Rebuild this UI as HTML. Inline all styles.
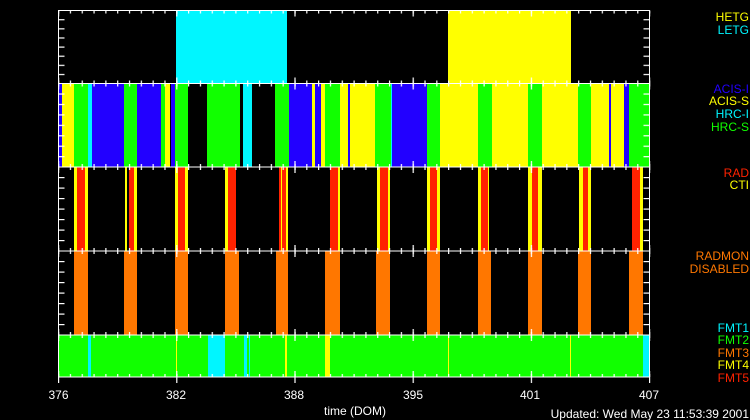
<!DOCTYPE html>
<html><head><meta charset="utf-8"><style>
html,body{margin:0;padding:0;background:#000;}
svg{display:block;}
text{font-family:"Liberation Sans",sans-serif;font-size:12px;}
</style></head><body>
<svg width="750" height="420" viewBox="0 0 750 420" xmlns="http://www.w3.org/2000/svg">
<defs>
<pattern id="mn" patternUnits="userSpaceOnUse" x="58" y="0" width="11.82" height="420"><rect x="0" y="0" width="1.2" height="420" fill="#fff"/></pattern>
<pattern id="mj" patternUnits="userSpaceOnUse" x="58" y="0" width="118.2" height="420"><rect x="0" y="0" width="1.2" height="420" fill="#fff"/></pattern>
<pattern id="y1" patternUnits="userSpaceOnUse" x="0" y="10" width="750" height="9.125"><rect x="0" y="0" width="750" height="1.2" fill="#fff"/></pattern>
<pattern id="y2" patternUnits="userSpaceOnUse" x="0" y="83" width="750" height="10.44"><rect x="0" y="0" width="750" height="1.2" fill="#fff"/></pattern>
<pattern id="y3" patternUnits="userSpaceOnUse" x="0" y="166.5" width="750" height="10.5"><rect x="0" y="0" width="750" height="1.2" fill="#fff"/></pattern>
<pattern id="y4" patternUnits="userSpaceOnUse" x="0" y="250.5" width="750" height="10.5"><rect x="0" y="0" width="750" height="1.2" fill="#fff"/></pattern>
</defs>
<rect width="750" height="420" fill="#000"/>
<rect x="176" y="10.5" width="111" height="73" fill="#00f6ff"/>
<rect x="448" y="10.5" width="123" height="73" fill="#ffff00"/>
<g transform="translate(0,83.5)">
<rect x="58.5" y="0" width="3.5" height="84" fill="#2200ff"/>
<rect x="62" width="12" height="84" fill="#ffff00"/>
<rect x="74" width="14" height="84" fill="#11ff00"/>
<rect x="88" width="4" height="84" fill="#00f6ff"/>
<rect x="92" width="32" height="84" fill="#2200ff"/>
<rect x="124" width="13" height="84" fill="#11ff00"/>
<rect x="137" width="24" height="84" fill="#2200ff"/>
<rect x="161" width="4" height="84" fill="#11ff00"/>
<rect x="165" width="5" height="84" fill="#ffff00"/>
<rect x="171" width="4" height="84" fill="#2200ff"/>
<rect x="175" width="13" height="84" fill="#11ff00"/>
<rect x="207" width="33" height="84" fill="#11ff00"/>
<rect x="243" width="9" height="84" fill="#00f6ff"/>
<rect x="275" width="14" height="84" fill="#11ff00"/>
<rect x="289" width="23" height="84" fill="#2200ff"/>
<rect x="312" width="3" height="84" fill="#ffff00"/>
<rect x="315" width="6" height="84" fill="#2200ff"/>
<rect x="321" width="4" height="84" fill="#ffff00"/>
<rect x="325" width="15" height="84" fill="#11ff00"/>
<rect x="340" width="8" height="84" fill="#ffff00"/>
<rect x="348" width="2" height="84" fill="#2200ff"/>
<rect x="350" width="25" height="84" fill="#ffff00"/>
<rect x="375" width="16" height="84" fill="#11ff00"/>
<rect x="391" width="1" height="84" fill="#00f6ff"/>
<rect x="392" width="35" height="84" fill="#2200ff"/>
<rect x="427" width="13" height="84" fill="#11ff00"/>
<rect x="440" width="38" height="84" fill="#ffff00"/>
<rect x="478" width="14" height="84" fill="#11ff00"/>
<rect x="492" width="36" height="84" fill="#ffff00"/>
<rect x="528" width="14" height="84" fill="#11ff00"/>
<rect x="542" width="36" height="84" fill="#ffff00"/>
<rect x="578" width="13" height="84" fill="#11ff00"/>
<rect x="591" width="18" height="84" fill="#ffff00"/>
<rect x="609" width="2" height="84" fill="#2200ff"/>
<rect x="611" width="13" height="84" fill="#ffff00"/>
<rect x="624" width="5" height="84" fill="#2200ff"/>
<rect x="629" width="21" height="84" fill="#11ff00"/>
</g>
<g transform="translate(0,167)">
<g fill="#ffff00">
<rect x="74" width="14" height="84"/><rect x="125" width="2" height="84"/><rect x="129" width="8" height="84"/>
<rect x="175" width="13" height="84"/><rect x="225" width="11" height="84"/><rect x="279" width="9" height="84"/>
<rect x="330" width="10" height="84"/><rect x="377" width="13" height="84"/><rect x="427" width="13" height="84"/>
<rect x="478" width="11" height="84"/><rect x="528" width="14" height="84"/><rect x="579" width="12" height="84"/>
<rect x="632" width="11" height="84"/>
</g>
<g fill="#ff2200">
<rect x="77" width="8" height="84"/><rect x="129" width="5" height="84"/><rect x="178" width="7" height="84"/>
<rect x="228" width="8" height="84"/><rect x="279" width="2" height="84"/><rect x="282" width="4" height="84"/>
<rect x="330" width="8" height="84"/><rect x="380" width="8" height="84"/><rect x="430" width="7" height="84"/>
<rect x="481" width="7" height="84"/><rect x="532" width="6" height="84"/><rect x="583" width="5" height="84"/>
<rect x="632" width="8" height="84"/>
</g>
</g>
<g transform="translate(0,251)" fill="#ff7700">
<rect x="74" width="14" height="84"/><rect x="124" width="13" height="84"/><rect x="175" width="13" height="84"/>
<rect x="225" width="14" height="84"/><rect x="276" width="12" height="84"/><rect x="325" width="15" height="84"/>
<rect x="376" width="14" height="84"/><rect x="427" width="13" height="84"/><rect x="478" width="13" height="84"/>
<rect x="528" width="14" height="84"/><rect x="578" width="13" height="84"/><rect x="629" width="14" height="84"/>
</g>
<g transform="translate(0,335)">
<rect x="58.5" width="591" height="42" fill="#11ff00"/>
<rect x="88" width="3" height="42" fill="#00f6ff"/>
<rect x="176" width="1" height="42" fill="#ffff00"/>
<rect x="208" width="17" height="42" fill="#00f6ff"/>
<rect x="244" width="3" height="42" fill="#00f6ff"/>
<rect x="249" width="1" height="42" fill="#00f6ff"/>
<rect x="285" width="2" height="42" fill="#ffff00"/>
<rect x="325" width="5" height="42" fill="#ffff00"/>
<rect x="448" width="1" height="42" fill="#ffff00"/>
<rect x="570" width="1" height="42" fill="#ffff00"/>
<rect x="643" width="7" height="42" fill="#00f6ff"/>
</g>
<!-- x minor ticks -->
<g fill="url(#mn)">
<rect x="58" y="10.5" width="593" height="3"/>
<rect x="58" y="80.5" width="593" height="6"/>
<rect x="58" y="164" width="593" height="6"/>
<rect x="58" y="248" width="593" height="6"/>
<rect x="58" y="332" width="593" height="6"/>
<rect x="58" y="374" width="593" height="3"/>
</g>
<g fill="url(#mj)">
<rect x="58" y="10.5" width="593" height="6"/>
<rect x="58" y="77.5" width="593" height="12"/>
<rect x="58" y="161" width="593" height="12"/>
<rect x="58" y="245" width="593" height="12"/>
<rect x="58" y="329" width="593" height="12"/>
<rect x="58" y="371" width="593" height="12"/>
</g>
<!-- y ticks -->
<rect x="58.5" y="12" width="6" height="70" fill="url(#y1)"/>
<rect x="643.5" y="12" width="6" height="70" fill="url(#y1)"/>
<rect x="58.5" y="85" width="6" height="80" fill="url(#y2)"/>
<rect x="643.5" y="85" width="6" height="80" fill="url(#y2)"/>
<rect x="58.5" y="169" width="6" height="80" fill="url(#y3)"/>
<rect x="643.5" y="169" width="6" height="80" fill="url(#y3)"/>
<rect x="58.5" y="253" width="6" height="80" fill="url(#y4)"/>
<rect x="643.5" y="253" width="6" height="80" fill="url(#y4)"/>
<g stroke="#fff" stroke-width="1" fill="none">
<rect x="58.5" y="10.5" width="591" height="366.5"/>
<line x1="58.5" y1="83.5" x2="649.5" y2="83.5"/>
<line x1="58.5" y1="167" x2="649.5" y2="167"/>
<line x1="58.5" y1="251" x2="649.5" y2="251"/>
<line x1="58.5" y1="335" x2="649.5" y2="335"/>
</g>
<g fill="#fff" text-anchor="middle" font-size="13">
<text x="58.5" y="399">376</text><text x="176" y="399">382</text><text x="294" y="399">388</text>
<text x="413" y="399">395</text><text x="530" y="399">401</text><text x="649" y="399">407</text>
<text x="355" y="415">time (DOM)</text>
</g>
<text x="749" y="418" fill="#fff" text-anchor="end" font-size="13">Updated: Wed May 23 11:53:39 2001</text>
<g text-anchor="end" font-size="12">
<text x="749" y="21" fill="#ffff00">HETG</text>
<text x="749" y="34" fill="#00f6ff">LETG</text>
<text x="749" y="93" fill="#2200ff">ACIS-I</text>
<text x="749" y="105" fill="#ffff00">ACIS-S</text>
<text x="749" y="118" fill="#00f6ff">HRC-I</text>
<text x="749" y="131" fill="#11ff00">HRC-S</text>
<text x="749" y="177" fill="#ff2200">RAD</text>
<text x="749" y="189" fill="#ffff00">CTI</text>
<text x="749" y="260" fill="#ff7700">RADMON</text>
<text x="749" y="273" fill="#ff7700">DISABLED</text>
<text x="749" y="332" fill="#00f6ff">FMT1</text>
<text x="749" y="344" fill="#11ff00">FMT2</text>
<text x="749" y="357" fill="#ff7700">FMT3</text>
<text x="749" y="369" fill="#ffff00">FMT4</text>
<text x="749" y="382" fill="#ff2200">FMT5</text>
</g>
</svg>
</body></html>
